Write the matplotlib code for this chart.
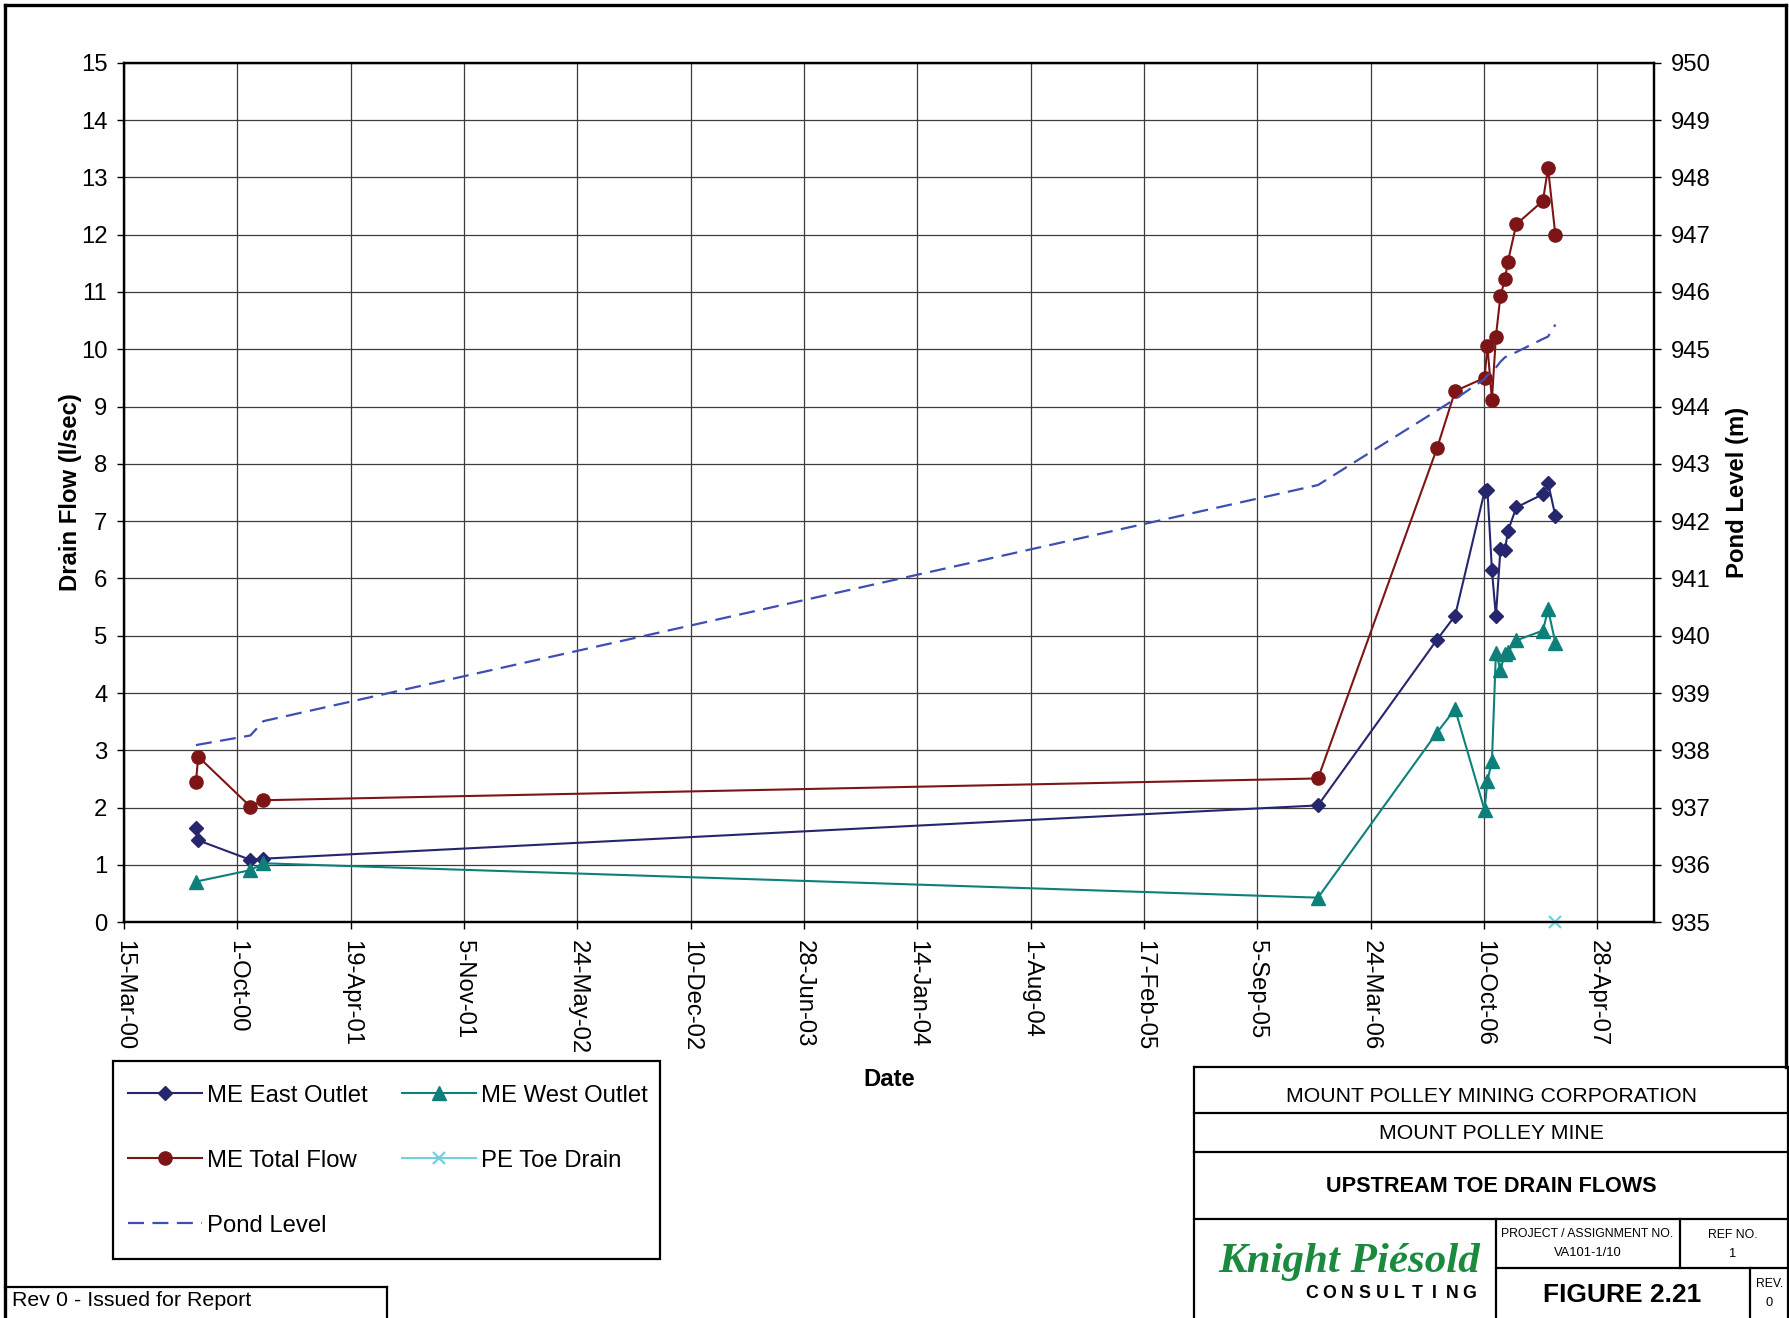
"""
recreation of the Mount Polley upstream toe drain flow chart (figure 2.21)
"""
import numpy as np
import pandas as pd
import matplotlib
matplotlib.use("Agg")
import matplotlib.pyplot as plt
import matplotlib.dates as mdates
from matplotlib.lines import Line2D
from matplotlib.patches import Rectangle
from matplotlib.ticker import FixedLocator, FuncFormatter, MultipleLocator

plt.rcParams['font.family'] = ['Liberation Sans', 'DejaVu Sans']

sample_dates = ['2000-07-20', '2000-07-24', '2000-10-24', '2000-11-16', '2005-12-21',
                '2006-07-19', '2006-08-20', '2006-10-11', '2006-10-16', '2006-10-24',
                '2006-10-31', '2006-11-08', '2006-11-16', '2006-11-21', '2006-12-06',
                '2007-01-22', '2007-01-31', '2007-02-13']
me_east_outlet = [1.65, 1.43, 1.09, 1.11, 2.04,
                  4.93, 5.35, 7.52, 7.55, 6.14,
                  5.34, 6.51, 6.49, 6.82, 7.24,
                  7.47, 7.67, 7.09]
me_west_outlet = [0.71, np.nan, 0.91, 1.03, 0.43,
                  3.31, 3.72, 1.96, 2.47, 2.81,
                  4.70, 4.41, 4.68, 4.72, 4.92,
                  5.09, 5.46, 4.88]
me_total_flow = [2.45, 2.89, 2.02, 2.13, 2.51,
                 8.27, 9.27, 9.50, 10.06, 9.12,
                 10.22, 10.93, 11.22, 11.52, 12.18,
                 12.59, 13.16, 11.99]
pond_level = [938.09, 938.10, 938.26, 938.51, 942.63,
              943.93, 944.13, 944.48, 944.55, 944.60,
              944.68, 944.78, 944.86, 944.88, 944.95,
              945.18, 945.22, 945.43]
pe_toe_dates = ['2007-02-13']
pe_toe_drain = [0.0]

x_start, x_end = '2000-03-15', '2007-08-06'
x_ticks = pd.date_range(x_start, periods=14, freq='200D')

colors = {"east": "#26266f", "west": "#0e807a", "total": "#7d1517",
          "pe": "#73d0dc", "pond": "#3f4eb3"}
fs = 17.2  # main text size

W, H = 1789, 1318


def fx(px):
  return px / W


def fy(py):
  return 1 - py / H


fig = plt.figure(figsize=(W / 100, H / 100), dpi=100)
ax = fig.add_axes([fx(124), fy(922.3), (1654 - 124) / W, (922.3 - 62.7) / H])

dates = pd.to_datetime(sample_dates)
east = np.array(me_east_outlet)
west = np.array(me_west_outlet)
total = np.array(me_total_flow)
pond = np.array(pond_level)
has_west = ~np.isnan(west)

l_east, = ax.plot(dates, east, color=colors["east"], lw=1.5, marker='D', ms=7.5, zorder=3)
l_west, = ax.plot(dates[has_west], west[has_west], color=colors["west"], lw=1.5,
                  marker='^', ms=10, zorder=3)
l_total, = ax.plot(dates, total, color=colors["total"], lw=1.5, marker='o', ms=9.5, zorder=3)
l_pe, = ax.plot(pd.to_datetime(pe_toe_dates), pe_toe_drain, color=colors["pe"], lw=1.5,
                marker='x', ms=9, mew=1.6, clip_on=False, zorder=4)

ax.set_xlim(pd.Timestamp(x_start), pd.Timestamp(x_end))
ax.set_ylim(0, 15)
ax.xaxis.set_major_locator(FixedLocator(mdates.date2num(x_ticks)))
ax.xaxis.set_major_formatter(FuncFormatter(
    lambda v, p: f"{mdates.num2date(v).day}-{mdates.num2date(v):%b-%y}"))
ax.yaxis.set_major_locator(MultipleLocator(1))
ax.grid(True, color="#3c3c3c", lw=0.9)
ax.set_axisbelow(True)
ax.tick_params(axis='both', direction='out', length=5, width=1, labelsize=fs, pad=7)
ax.tick_params(axis='x', labelrotation=-90, pad=8)
for sp in ax.spines.values():
  sp.set_linewidth(1.6)

ax.set_ylabel("Drain Flow (l/sec)", fontsize=fs, fontweight='bold')
ax.yaxis.label.set_va('center')
ax.yaxis.set_label_coords((70.7 - 124) / 1530, 0.5)
ax.set_xlabel("Date", fontsize=fs, fontweight='bold')
ax.xaxis.label.set_va('center')
ax.xaxis.set_label_coords(0.5, (922.3 - 1080) / 859.6)

# pond level on the secondary axis
ax2 = ax.twinx()
l_pond, = ax2.plot(dates, pond, color=colors["pond"], lw=1.6, ls=(0, (7.2, 3.8)), zorder=2)
ax2.set_ylim(935, 950)
ax2.yaxis.set_major_locator(MultipleLocator(1))
ax2.tick_params(axis='y', direction='out', length=5, width=1, labelsize=fs, pad=7)
ax2.set_ylabel("Pond Level (m)", fontsize=fs, fontweight='bold')
ax2.yaxis.label.set_va('center')
ax2.yaxis.set_label_coords((1738 - 124) / 1530, 0.5)
for sp in ax2.spines.values():
  sp.set_linewidth(1.6)

# legend entries without frame; the box is drawn separately so the padding matches
leg = fig.legend([l_east, l_total, l_pond, l_west, l_pe],
                 ["ME East Outlet", "ME Total Flow", "Pond Level", "ME West Outlet", "PE Toe Drain"],
                 ncol=2, loc='upper left', bbox_to_anchor=(fx(114.7), fy(1071.6)),
                 bbox_transform=fig.transFigure, borderaxespad=0, frameon=False,
                 fontsize=fs, handlelength=3.1, handletextpad=0.2, columnspacing=1.45,
                 labelspacing=1.8, borderpad=0.55)
fig.add_artist(Rectangle((fx(113), fy(1259)), fx(660) - fx(113), fy(1061) - fy(1259),
                         transform=fig.transFigure, fill=False, edgecolor='black', lw=1.6))


def fig_line(x0, y0, x1, y1, lw=1.6):
  fig.add_artist(Line2D([fx(x0), fx(x1)], [fy(y0), fy(y1)], transform=fig.transFigure,
                        color='black', lw=lw, solid_capstyle='projecting'))


# page frame
fig_line(5, 5, 1786, 5, lw=2.4)
fig_line(5, 5, 5, 1330, lw=2.4)
fig_line(1786, 5, 1786, 1067, lw=2.4)

# revision box
fig_line(5, 1287, 386.7, 1287)
fig_line(386.7, 1287, 386.7, 1330)
fig.text(fx(11.7), fy(1301), "Rev 0 - Issued for Report", fontsize=15.4, va='center', ha='left')

# title block
bx0, bx1 = 1193.5, 1788
fig_line(bx0, 1067, bx1, 1067)
fig_line(bx0, 1067, bx0, 1330)
fig_line(bx1, 1067, bx1, 1330)
fig_line(bx0, 1112.5, bx1, 1112.5)
fig_line(bx0, 1152.4, bx1, 1152.4)
fig_line(bx0, 1218.6, bx1, 1218.6)
fig_line(1495.8, 1218.6, 1495.8, 1330)
fig_line(1495.8, 1267.7, bx1, 1267.7)
fig_line(1679.6, 1218.6, 1679.6, 1267.7)
fig_line(1750.3, 1267.7, 1750.3, 1330)

fig.text(fx(1491.5), fy(1097), "MOUNT POLLEY MINING CORPORATION", fontsize=15.3, ha='center', va='center')
fig.text(fx(1491.5), fy(1133.5), "MOUNT POLLEY MINE", fontsize=15.3, ha='center', va='center')
fig.text(fx(1491.5), fy(1186.5), "UPSTREAM TOE DRAIN FLOWS", fontsize=15.6, fontweight='bold',
         ha='center', va='center')
fig.text(fx(1349.5), fy(1262), "Knight Piésold", fontsize=31, fontweight='bold', fontstyle='italic',
         family='Liberation Serif', color='#1b8a3e', ha='center', va='center')
for i, ch in enumerate("CONSULTING"):
  fig.text(fx(1312 + i * 17.5), fy(1294), ch, fontsize=12.8, fontweight='bold',
           ha='center', va='center')
fig.text(fx(1587.5), fy(1234.3), "PROJECT / ASSIGNMENT NO.", fontsize=8.8, ha='center', va='center')
fig.text(fx(1587.5), fy(1252.7), "VA101-1/10", fontsize=9.3, ha='center', va='center')
fig.text(fx(1733), fy(1235), "REF NO.", fontsize=8.8, ha='center', va='center')
fig.text(fx(1733), fy(1254.3), "1", fontsize=9.3, ha='center', va='center')
fig.text(fx(1622.5), fy(1295), "FIGURE 2.21", fontsize=19, fontweight='bold', ha='center', va='center')
fig.text(fx(1770), fy(1284), "REV.", fontsize=8.8, ha='center', va='center')
fig.text(fx(1769.5), fy(1303), "0", fontsize=9.3, ha='center', va='center')

fig.savefig("out.png", dpi=100)
